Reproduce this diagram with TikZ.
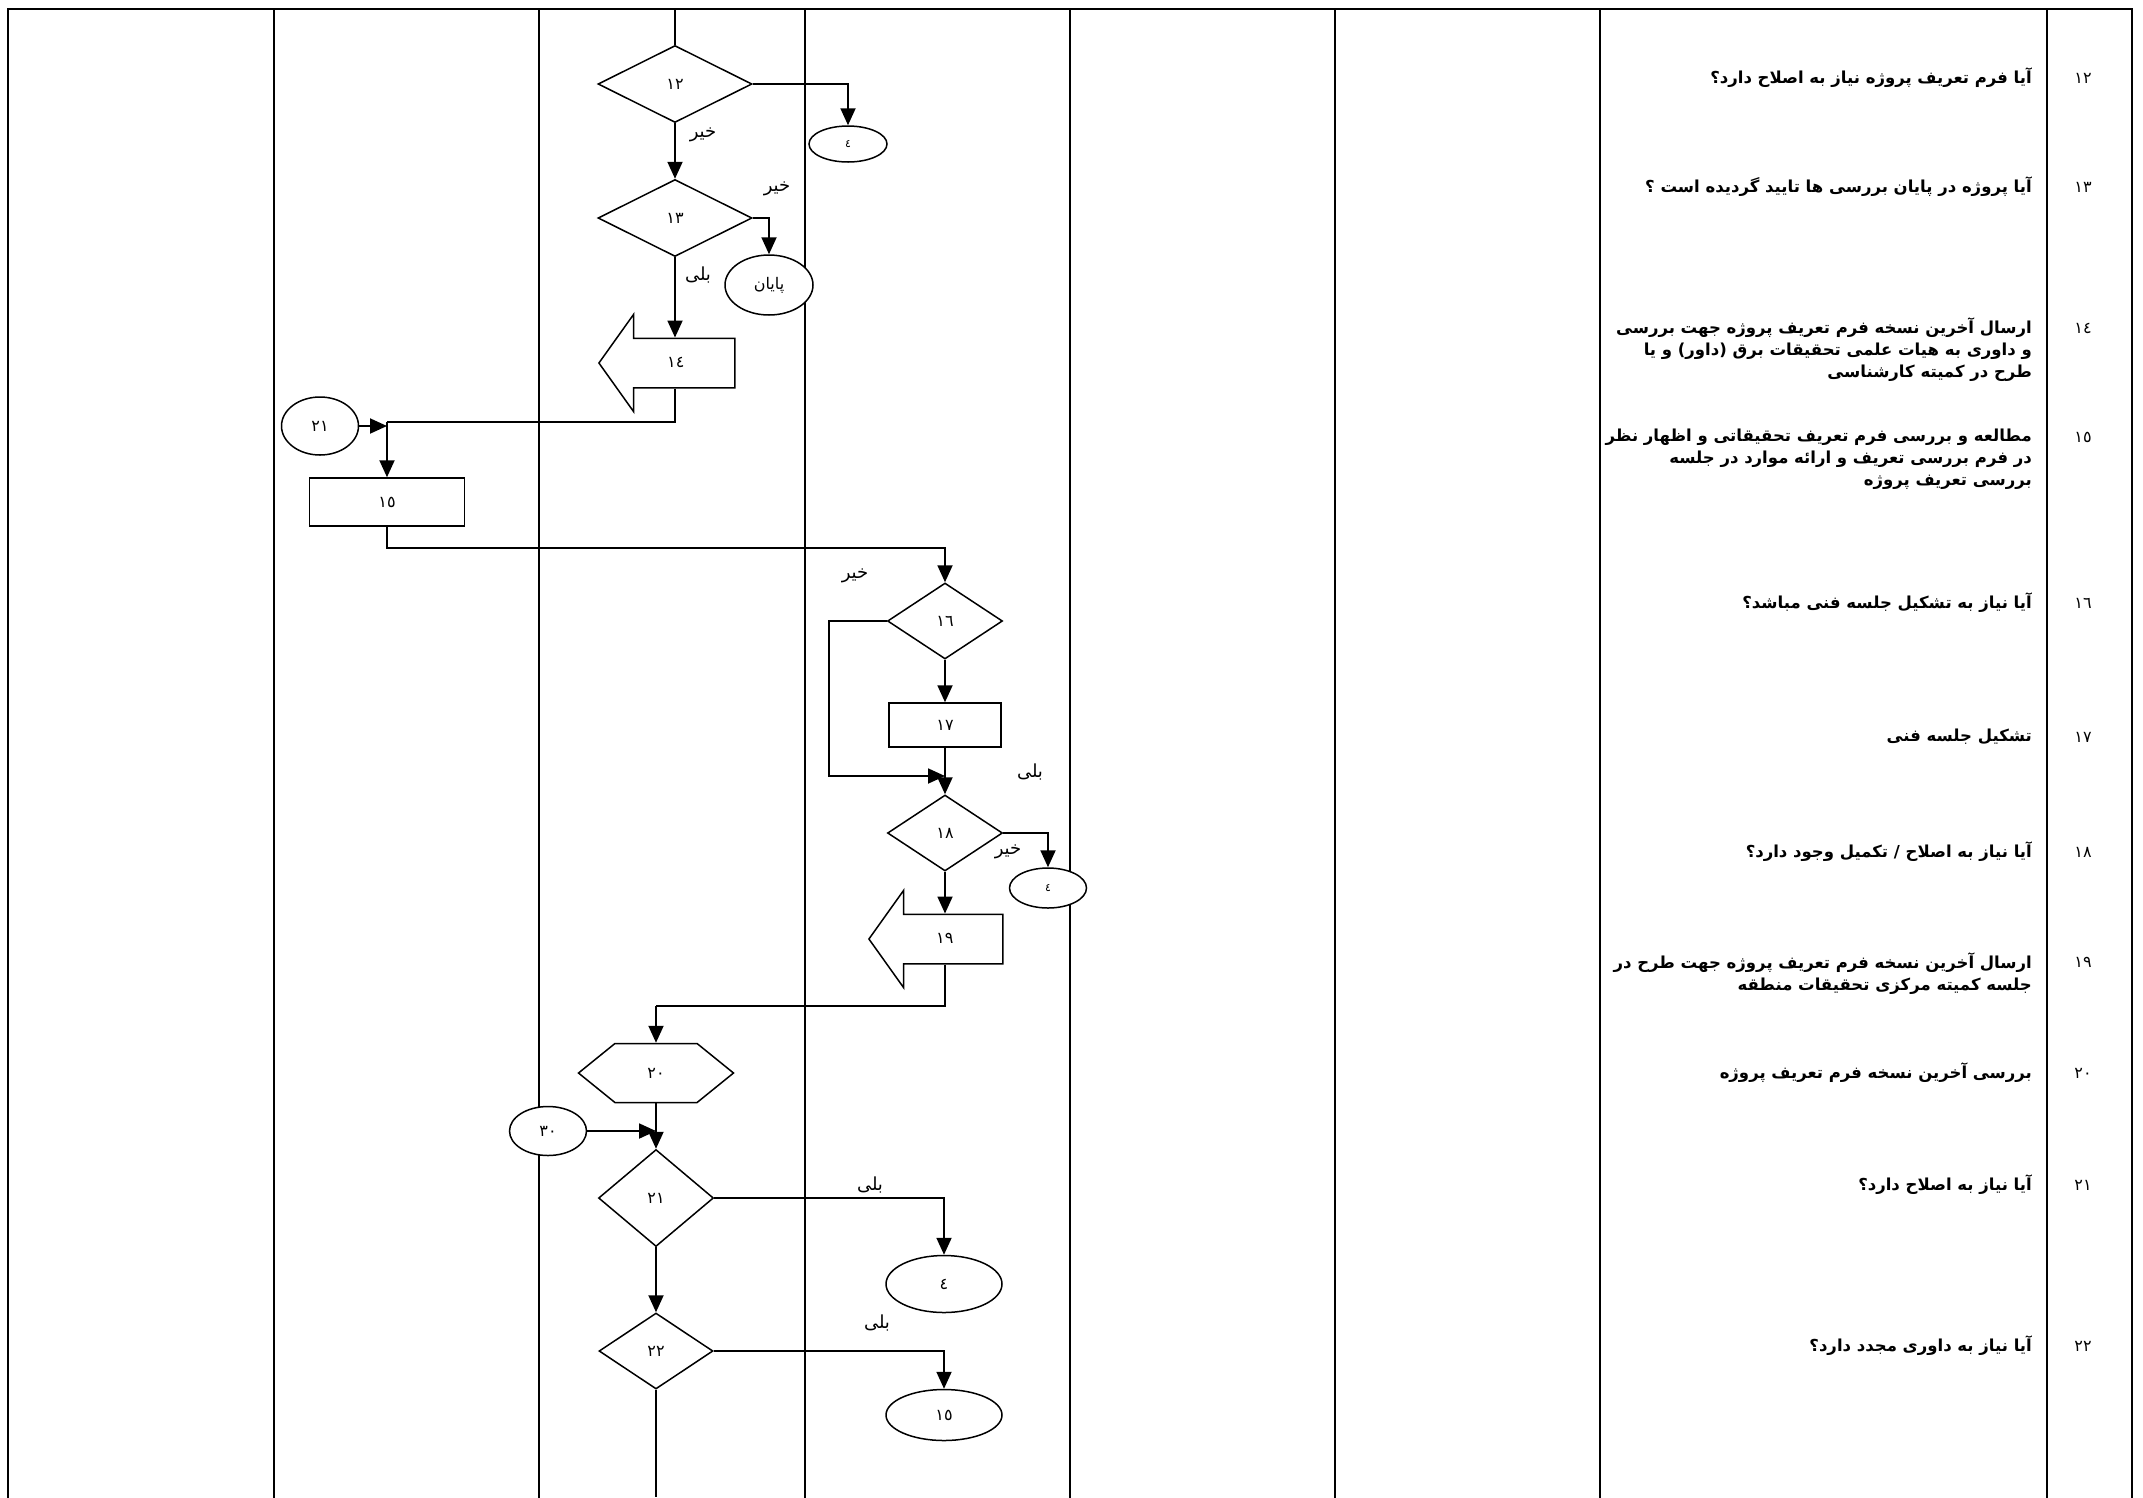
\documentclass[tikz,border=0pt]{standalone}
\usepackage{fontspec}
\usepackage{tikz}
\usetikzlibrary{shapes.geometric}
\usetikzlibrary{shapes.arrows}
\usetikzlibrary{shapes.symbols}
\usetikzlibrary{arrows.meta}
\newfontfamily\arabicfont[Script=Arabic]{DejaVu Sans}
\TeXXeTstate=1
\newcommand{\rtltext}[1]{\beginR #1\endR}

\begin{document}
\begin{tikzpicture}[x=1pt, y=-1pt,
	tableline/.style={line width=2.7pt, line cap=rect},
	link/.style={line width=1.9pt},
	flow/.style={line width=1.9pt, -{Triangle[length=17pt,width=15pt]}},
	shapeline/.style={draw, fill=white, line width=1.5pt, inner sep=0pt, font=\arabicfont\fontsize{16}{19}\selectfont},
	decision/.style={shapeline, diamond},
	term/.style={shapeline, ellipse},
	smallterm/.style={term, font=\arabicfont\fontsize{11}{13}\selectfont},
	task/.style={shapeline, rectangle},
	prep/.style={shapeline, signal, signal to=east and west, signal pointer angle=78},
	sendbox/.style={shapeline, single arrow, shape border rotate=180, single arrow tip angle=109, single arrow head extend=24pt, minimum width=96pt, text height=12pt, text depth=4pt, inner ysep=16pt},
	answer/.style={font=\arabicfont\fontsize{18}{21}\selectfont, inner sep=0pt},
	rownum/.style={font=\arabicfont\fontsize{16}{22}\selectfont, inner sep=0pt},
	rowtext/.style={anchor=east, align=right, inner sep=0pt, font=\arabicfont\bfseries\fontsize{16.5}{22}\selectfont}]
	\useasboundingbox (0,0) rectangle (2143,1497);

	\draw[tableline] (8,9) -- (2132,9);
	\foreach \x in {8,274,539,805,1070,1335,1600,2047,2132}
	\draw[tableline] (\x,9) -- (\x,1497);

	\foreach \i/\n/\y in {12/١٢/78, 13/١٣/187, 14/١٤/328, 15/١٥/437, 16/١٦/603, 17/١٧/737, 18/١٨/852, 19/١٩/962, 20/٢٠/1073, 21/٢١/1185, 22/٢٢/1346}
	\node[rownum] (num\i) at (2083,\y) {\n};

	\node[rowtext] (row12) at (2032,78) {\rtltext{آیا فرم تعریف پروژه نیاز به اصلاح دارد؟}};
	\node[rowtext] (row13) at (2032,187) {\rtltext{آیا پروژه در پایان بررسی ها تایید گردیده است ؟}};
	\node[rowtext] (row14) at (2032,350) {\rtltext{ارسال آخرین نسخه فرم تعریف پروژه جهت بررسی}\\
		\rtltext{و داوری به هیات علمی تحقیقات برق (داور) و یا}\\
		\rtltext{طرح در کمیته کارشناسی}};
	\node[rowtext] (row15) at (2032,459) {\rtltext{مطالعه و بررسی فرم تعریف تحقیقاتی و اظهار نظر}\\
		\rtltext{در فرم بررسی تعریف و ارائه موارد در جلسه}\\
		\rtltext{بررسی تعریف پروژه}};
	\node[rowtext] (row16) at (2032,603) {\rtltext{آیا نیاز به تشکیل جلسه فنی مباشد؟}};
	\node[rowtext] (row17) at (2032,737) {\rtltext{تشکیل جلسه فنی}};
	\node[rowtext] (row18) at (2032,852) {\rtltext{آیا نیاز به اصلاح / تکمیل وجود دارد؟}};
	\node[rowtext] (row19) at (2032,974) {\rtltext{ارسال آخرین نسخه فرم تعریف پروژه جهت طرح در}\\
		\rtltext{جلسه کمیته مرکزی تحقیقات منطقه}};
	\node[rowtext] (row20) at (2032,1073) {\rtltext{بررسی آخرین نسخه فرم تعریف پروژه}};
	\node[rowtext] (row21) at (2032,1185) {\rtltext{آیا نیاز به اصلاح دارد؟}};
	\node[rowtext] (row22) at (2032,1346) {\rtltext{آیا نیاز به داوری مجدد دارد؟}};

	\node[decision, minimum width=154pt, minimum height=77pt] (d12) at (675,84) {١٢};
	\node[smallterm, minimum width=78pt, minimum height=36pt] (e12) at (848,144) {٤};
	\node[decision, minimum width=154pt, minimum height=77pt] (d13) at (675,218) {١٣};
	\node[term, minimum width=88pt, minimum height=60pt] (end13) at (769,285) {پایان};
	\node[sendbox, minimum height=136pt, anchor=tip] (s14) at (598,363) {١٤};
	\node[term, minimum width=77pt, minimum height=58pt] (c21) at (320,426) {٢١};
	\node[task, minimum width=155pt, minimum height=48pt] (b15) at (387,502) {١٥};
	\node[decision, minimum width=115pt, minimum height=76pt] (d16) at (945,621) {١٦};
	\node[task, minimum width=112pt, minimum height=44pt] (b17) at (945,725) {١٧};
	\node[decision, minimum width=115pt, minimum height=76pt] (d18) at (945,833) {١٨};
	\node[smallterm, minimum width=77pt, minimum height=40pt] (e18) at (1048,888) {٤};
	\node[sendbox, minimum height=134pt, anchor=tip] (s19) at (868,939) {١٩};
	\node[prep, minimum width=155pt, minimum height=59pt] (h20) at (656,1073) {٢٠};
	\node[term, minimum width=77pt, minimum height=49pt] (c30) at (548,1131) {٣٠};
	\node[decision, minimum width=115pt, minimum height=97pt] (d21) at (656,1198) {٢١};
	\node[term, minimum width=116pt, minimum height=57pt] (e21) at (944,1284) {٤};
	\node[decision, minimum width=114pt, minimum height=76pt] (d22) at (656,1351) {٢٢};
	\node[term, minimum width=116pt, minimum height=51pt] (e22) at (944,1415) {١٥};

	\node[answer] (no12) at (703,135) {خیر};
	\node[answer] (no13) at (777,189) {خیر};
	\node[answer] (yes13) at (698,275) {بلی};
	\node[answer] (no16) at (855,576) {خیر};
	\node[answer] (yes17) at (1030,772) {بلی};
	\node[answer] (no18) at (1008,852) {خیر};
	\node[answer] (yes21) at (870,1185) {بلی};
	\node[answer] (yes22) at (877,1323) {بلی};

	\coordinate (t12) at (675,9);
	\coordinate (j14) at (387,422);
	\coordinate (k15) at (387,548);
	\coordinate (l17) at (829,776);
	\coordinate (j18) at (945,776);
	\coordinate (j19) at (656,1006);
	\coordinate (b22) at (656,1497);

	\draw[link] (t12) -- (d12.north);
	\draw[flow] (d12.east) -| (e12.north);
	\draw[flow] (d12.south) -- (d13.north);
	\draw[flow] (d13.east) -| (end13.north);
	\draw[flow] (d13.south) -- (d13.south |- s14.before tail);
	\draw[link] (d13.south |- s14.after tail) |- (j14);
	\draw[flow] (j14) -- (b15.north);
	\draw[flow] (c21.east) -- (c21.east -| b15.north);
	\draw[flow] (b15.south) -- (k15) -| (d16.north);
	\draw[flow] (d16.west) -| (l17) -- (j18);
	\draw[flow] (d16.south) -- (b17.north);
	\draw[flow] (b17.south) -- (d18.north);
	\draw[flow] (d18.east) -| (e18.north);
	\draw[flow] (d18.south) -- (d18.south |- s19.before tail);
	\draw[link] (d18.south |- s19.after tail) |- (j19);
	\draw[flow] (j19) -- (h20.north);
	\draw[flow] (h20.south) -- (d21.north);
	\draw[flow] (c30.east) -- (c30.east -| d21.north);
	\draw[flow] (d21.east) -| (e21.north);
	\draw[flow] (d21.south) -- (d22.north);
	\draw[flow] (d22.east) -| (e22.north);
	\draw[link] (d22.south) -- (b22);
\end{tikzpicture}
\end{document}
